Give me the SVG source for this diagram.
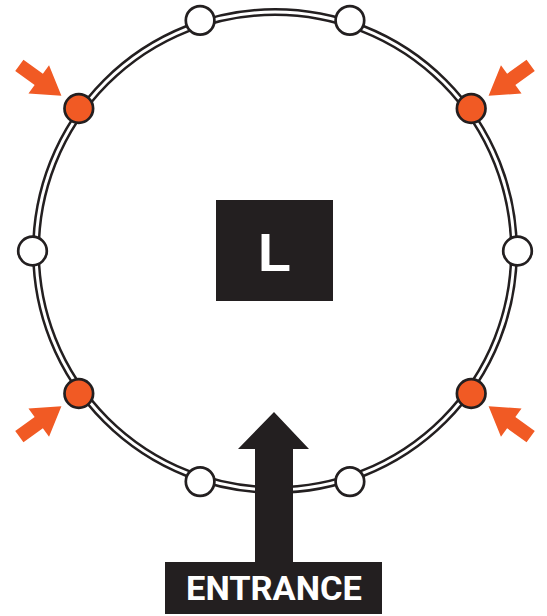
<svg xmlns="http://www.w3.org/2000/svg" width="547" height="616" viewBox="0 0 547 616">
  <style>
    .ring-outer { fill: none; stroke: #231F20; stroke-width: 8; }
    .ring-inner { fill: none; stroke: #FFFFFF; stroke-width: 3; }
    .node-white { fill: #FFFFFF; stroke: #231F20; stroke-width: 2.7; }
    .node-orange { fill: #F15A24; stroke: #231F20; stroke-width: 2.7; }
    .pointer { fill: #F15A24; }
    .dark { fill: #231F20; }
    .label { fill: #FFFFFF; font-weight: 700; }
  </style>
  <defs>
    <polygon id="ptr" class="pointer" points="0,0 -28,-17.5 -28,-7 -52,-7 -52,7 -28,7 -28,17.5"/>
  </defs>
  <rect width="547" height="616" fill="#FFFFFF"/>
  <g id="connectors">
    <circle class="ring-outer" cx="275" cy="251" r="239"/>
    <circle class="ring-inner" cx="275" cy="251" r="239"/>
  </g>
  <g id="entrance">
    <polygon class="dark" points="274,412 309,449 293,449 293,563 255,563 255,449 238,449"/>
    <rect class="dark" x="165" y="562" width="217" height="52"/>
    <text class="label" x="274" y="600" text-anchor="middle" font-family="Roboto, 'Liberation Sans', sans-serif" font-size="32.5" textLength="176" lengthAdjust="spacingAndGlyphs">ENTRANCE</text>
  </g>
  <g id="L">
    <rect class="dark" x="216" y="200" width="117" height="101"/>
    <text class="label" x="258" y="271" font-family="'Liberation Sans', Arial, sans-serif" font-size="54">L</text>
  </g>
  <g id="node-right"><circle class="node-white" cx="517.5" cy="251" r="14.3"/></g>
  <g id="node-left"><circle class="node-white" cx="32.5" cy="251" r="14.3"/></g>
  <g id="node-top-left"><circle class="node-white" cx="200.1" cy="20.4" r="14.3"/></g>
  <g id="node-top-right"><circle class="node-white" cx="349.9" cy="20.4" r="14.3"/></g>
  <g id="node-bottom-left"><circle class="node-white" cx="200.1" cy="481.6" r="14.3"/></g>
  <g id="node-bottom-right"><circle class="node-white" cx="349.9" cy="481.6" r="14.3"/></g>
  <g id="node-orange-tl">
    <circle class="node-orange" cx="78.8" cy="108.5" r="14.3"/>
    <use href="#ptr" transform="translate(78.8,108.5) rotate(36) translate(-21.5,0)"/>
  </g>
  <g id="node-orange-tr">
    <circle class="node-orange" cx="471.2" cy="108.5" r="14.3"/>
    <use href="#ptr" transform="translate(471.2,108.5) rotate(144) translate(-21.5,0)"/>
  </g>
  <g id="node-orange-bl">
    <circle class="node-orange" cx="78.8" cy="393.5" r="14.3"/>
    <use href="#ptr" transform="translate(78.8,393.5) rotate(-36) translate(-21.5,0)"/>
  </g>
  <g id="node-orange-br">
    <circle class="node-orange" cx="471.2" cy="393.5" r="14.3"/>
    <use href="#ptr" transform="translate(471.2,393.5) rotate(-144) translate(-21.5,0)"/>
  </g>
</svg>
